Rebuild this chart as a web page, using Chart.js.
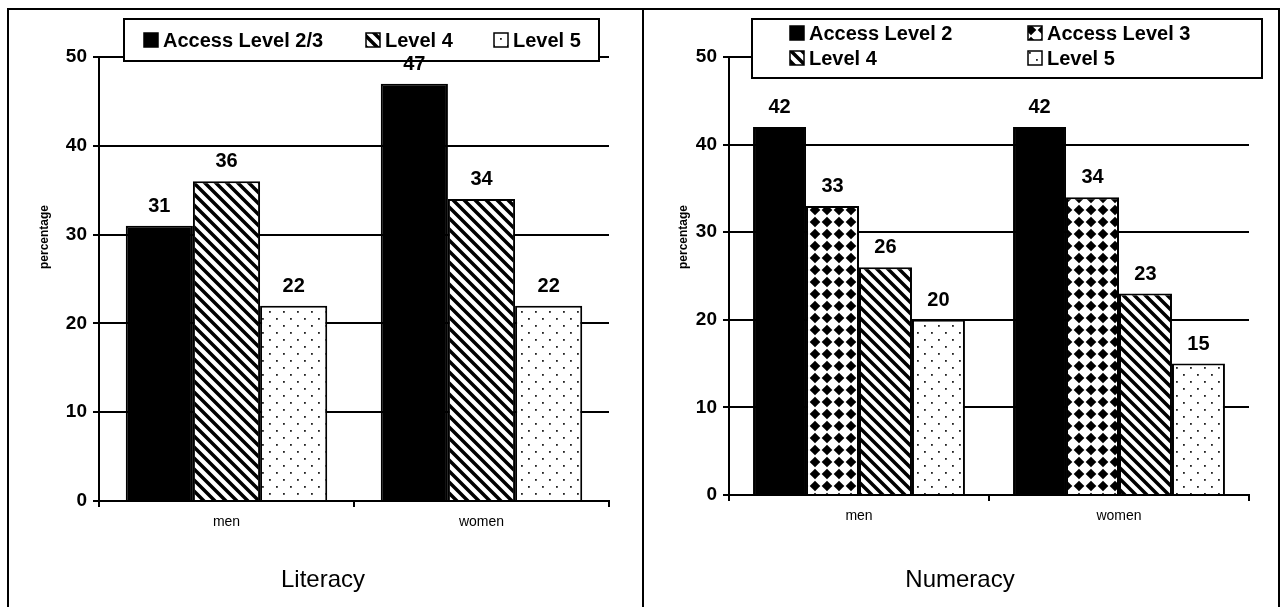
<!DOCTYPE html>
<html><head><meta charset="utf-8">
<script src="https://cdn.jsdelivr.net/npm/chart.js@4.4.1/dist/chart.umd.min.js"></script>
<style>
html,body{margin:0;padding:0;background:#fff;width:1282px;height:607px;overflow:hidden;}
#frame{position:absolute;left:7px;top:8px;width:1273px;height:640px;border:2px solid #000;box-sizing:border-box;}
#divider{position:absolute;left:642px;top:8px;width:2px;height:620px;background:#000;}
canvas{position:absolute;top:0;}
#c1{left:0;} #c2{left:641px;}
</style></head>
<body>
<div id="frame"></div><div id="divider"></div>
<canvas id="c1" width="641" height="607"></canvas>
<canvas id="c2" width="641" height="607"></canvas>
<script>
// ---- data ----
const categories = ['men', 'women'];
const yTickValues = [0, 10, 20, 30, 40, 50];
const litSeriesNames = ['Access Level 2/3', 'Level 4', 'Level 5'];
const litLevel23 = [31, 47];
const litLevel4 = [36, 34];
const litLevel5 = [22, 22];
const numSeriesNames = ['Access Level 2', 'Access Level 3', 'Level 4', 'Level 5'];
const numLevel2 = [42, 42];
const numLevel3 = [33, 34];
const numLevel4 = [26, 23];
const numLevel5 = [20, 15];
const chartTitles = ['Literacy', 'Numeracy'];
const yAxisTitle = 'percentage';

// ---- patterns ----
const tmpCtx = document.createElement('canvas').getContext('2d');
function pat(w, h, draw) {
  const c = document.createElement('canvas');
  c.width = w; c.height = h;
  const g = c.getContext('2d');
  g.fillStyle = '#fff'; g.fillRect(0, 0, w, h);
  draw(g);
  return tmpCtx.createPattern(c, 'repeat');
}
const hatch = pat(11, 11, g => {
  const s = 11;
  g.strokeStyle = '#000'; g.lineWidth = 3.5;
  g.beginPath();
  g.moveTo(-s, 0); g.lineTo(s, 2 * s);
  g.moveTo(0, 0); g.lineTo(s, s);
  g.moveTo(0, -s); g.lineTo(2 * s, s);
  g.stroke();
});
const dots = pat(14, 14, g => {
  g.fillStyle = '#222';
  g.fillRect(3, 3, 1.8, 1.8);
  g.fillRect(10, 10, 1.8, 1.8);
});
const diamonds = pat(12, 12, g => {
  g.fillStyle = '#000';
  g.beginPath();
  g.moveTo(6, 0.7); g.lineTo(11.3, 6); g.lineTo(6, 11.3); g.lineTo(0.7, 6); g.closePath();
  g.fill();
});

// ---- plugins ----
const drawExtras = {
  id: 'drawExtras',
  afterDraw(chart) {
    const o = chart.options.plugins.drawExtras;
    const ctx = chart.ctx;
    ctx.save();
    // legend box
    const b = o.legendBox;
    ctx.fillStyle = '#fff';
    ctx.fillRect(b[0], b[1], b[2], b[3]);
    ctx.strokeStyle = '#000'; ctx.lineWidth = 2;
    ctx.strokeRect(b[0], b[1], b[2], b[3]);
    ctx.font = 'bold 20px "Liberation Sans", Arial, sans-serif';
    ctx.textAlign = 'left'; ctx.textBaseline = 'middle';
    chart.data.datasets.forEach((ds, i) => {
      const p = o.legendItems[i];
      ctx.fillStyle = ds.backgroundColor;
      ctx.fillRect(p[0], p[1] - 7, 14, 14);
      ctx.strokeStyle = '#000'; ctx.lineWidth = 1.5;
      ctx.strokeRect(p[0], p[1] - 7, 14, 14);
      ctx.fillStyle = '#000';
      ctx.fillText(ds.label, p[0] + 19, p[1] + 1);
    });
    // value labels
    ctx.fillStyle = '#000';
    ctx.font = 'bold 20px "Liberation Sans", Arial, sans-serif';
    ctx.textAlign = 'center';
    ctx.textBaseline = 'alphabetic';
    chart.data.datasets.forEach((ds, i) => {
      chart.getDatasetMeta(i).data.forEach((el, j) => {
        ctx.fillText(String(ds.data[j]), el.x, el.y - 14);
      });
    });
    // y axis title
    ctx.save();
    ctx.translate(o.yTitlePos[0], o.yTitlePos[1]);
    ctx.rotate(-Math.PI / 2);
    ctx.font = 'bold 12px "Liberation Sans", Arial, sans-serif';
    ctx.textAlign = 'center'; ctx.textBaseline = 'middle';
    ctx.fillText(yAxisTitle, 0, 0);
    ctx.restore();
    // chart title
    ctx.font = '24px "Liberation Sans", Arial, sans-serif';
    ctx.textAlign = 'center'; ctx.textBaseline = 'middle';
    ctx.fillStyle = '#000';
    ctx.fillText(o.title, o.titlePos[0], o.titlePos[1]);
    ctx.restore();
  }
};

function makeChart(id, datasets, cfg) {
  return new Chart(document.getElementById(id), {
    type: 'bar',
    data: { labels: categories, datasets },
    options: {
      responsive: false,
      animation: false,
      devicePixelRatio: 1,
      layout: { padding: { left: 0, top: 57, right: cfg.padRight, bottom: cfg.padBottom } },
      datasets: { bar: { categoryPercentage: cfg.catPct, barPercentage: 1, borderColor: '#000', borderWidth: 2 } },
      plugins: {
        legend: { display: false },
        tooltip: { enabled: false },
        drawExtras: cfg.extras
      },
      scales: {
        y: {
          min: 0, max: 50,
          afterBuildTicks: s => { s.ticks = yTickValues.map(v => ({ value: v })); },
          afterFit: s => { s.width = cfg.yWidth; },
          ticks: { color: '#000', padding: 6, font: { family: '"Liberation Sans", Arial, sans-serif', size: 19, weight: 'bold' } },
          grid: { color: '#000', lineWidth: 2, tickLength: 6, drawTicks: true },
          border: { display: true, color: '#000', width: 2 }
        },
        x: {
          afterFit: s => { s.height = 30; },
          ticks: { color: '#000', padding: 7, font: { family: '"Liberation Sans", Arial, sans-serif', size: 14 } },
          grid: { offset: true, drawOnChartArea: false, drawTicks: true, tickLength: 6, color: '#000', lineWidth: 2 },
          border: { display: true, color: '#000', width: 2 }
        }
      }
    },
    plugins: [drawExtras]
  });
}

makeChart('c1', [
  { label: litSeriesNames[0], data: litLevel23, backgroundColor: '#000' },
  { label: litSeriesNames[1], data: litLevel4, backgroundColor: hatch },
  { label: litSeriesNames[2], data: litLevel5, backgroundColor: dots }
], {
  yWidth: 99, padRight: 32, padBottom: 76, catPct: 0.79,
  extras: {
    legendBox: [124, 19, 475, 42],
    legendItems: [[144, 40], [366, 40], [494, 40]],
    yTitlePos: [45, 237],
    title: chartTitles[0], titlePos: [323, 580]
  }
});

makeChart('c2', [
  { label: numSeriesNames[0], data: numLevel2, backgroundColor: '#000' },
  { label: numSeriesNames[1], data: numLevel3, backgroundColor: diamonds },
  { label: numSeriesNames[2], data: numLevel4, backgroundColor: hatch },
  { label: numSeriesNames[3], data: numLevel5, backgroundColor: dots }
], {
  yWidth: 88, padRight: 33, padBottom: 82, catPct: 0.815,
  extras: {
    legendBox: [111, 19, 510, 59],
    legendItems: [[149, 33], [387, 33], [149, 58], [387, 58]],
    yTitlePos: [43, 237],
    title: chartTitles[1], titlePos: [319, 580]
  }
});
</script>
</body></html>
